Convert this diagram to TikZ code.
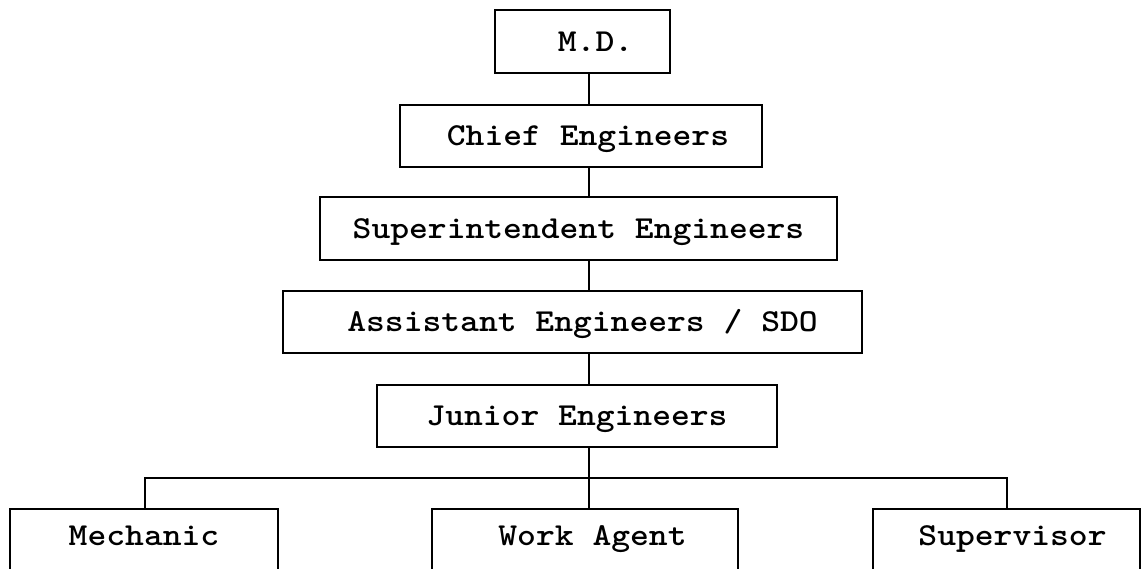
\documentclass[tikz,border=0pt]{standalone}
\usepackage{fontspec}
\newfontfamily\orgtt[FakeStretch=1.12]{lmmonolt10-bold.otf}
\newcommand\orgboxfont{\orgtt\fontsize{32}{32}\selectfont}
\begin{document}
\begin{tikzpicture}[x=1pt,y=-1pt,
  orgbox/.style={draw, line width=1.6pt, inner sep=0pt, font=\orgboxfont,
    text height=19.5pt, text depth=0pt, anchor=center},
  lowbox/.style={orgbox, minimum height=62pt, text depth=8pt},
  link/.style={line width=1.6pt}]
\useasboundingbox (0,0) rectangle (1142,568);
\fill[white] (0,0) rectangle (1142,568);
\clip (0,0) rectangle (1142,568);
% boxes
\node[orgbox, minimum width=175pt, minimum height=63pt] (md) at (582.5,41.5) {\hspace{26pt}M.D.};
\node[orgbox, minimum width=362pt, minimum height=62pt] (chief) at (581,136) {\hspace{14pt}Chief Engineers};
\node[orgbox, minimum width=517pt, minimum height=63pt] (sup) at (578.5,228.5) {Superintendent Engineers};
\node[orgbox, minimum width=579pt, minimum height=62pt] (asst) at (572.5,322) {\hspace{20pt}Assistant Engineers / SDO};
\node[orgbox, minimum width=400pt, minimum height=62pt] (jun) at (577,416) {Junior Engineers};
\node[lowbox, minimum width=268pt] (mech) at (144,540) {Mechanic\hspace{23pt}};
\node[lowbox, minimum width=306pt] (wa) at (585,540) {\hspace{15pt}Work Agent};
\node[lowbox, minimum width=267pt] (supv) at (1006.5,540) {\hspace{12pt}Supervisor};
% connector column and bus
\coordinate (col) at (589,0);
\coordinate (busL) at (145,478);
\coordinate (busR) at (1007,478);
% connectors
\draw[link] (md.south -| col) -- (chief.north -| col);
\draw[link] (chief.south -| col) -- (sup.north -| col);
\draw[link] (sup.south -| col) -- (asst.north -| col);
\draw[link] (asst.south -| col) -- (jun.north -| col);
\draw[link] (jun.south -| col) -- (wa.north -| col);
\draw[link] (mech.north -| busL) -- (busL) -- (busR) -- (supv.north -| busR);
\end{tikzpicture}
\end{document}
